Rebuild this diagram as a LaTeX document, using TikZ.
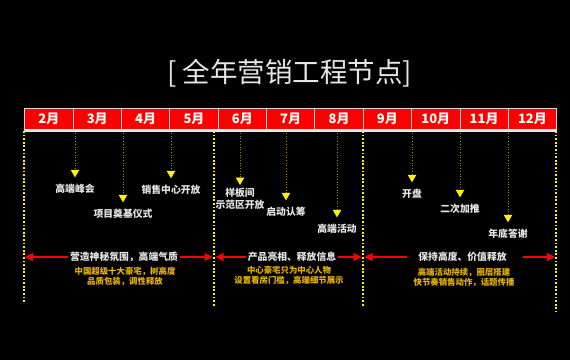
\documentclass[tikz,border=0pt]{standalone}
\usepackage{fontspec}
\newfontfamily\cjk{Noto Sans CJK SC}
\usetikzlibrary{arrows.meta}
\definecolor{gold}{HTML}{E8B400}
\definecolor{dimyel}{HTML}{9A8A00}
\definecolor{ltxt}{HTML}{E6E6E6}
\begin{document}
\begin{tikzpicture}[x=1pt,y=-1pt,
  month/.style={draw=white!85!black,fill=red,line width=0.8pt,minimum width=48.36pt,
    minimum height=21pt,inner sep=0pt,text=white,font=\cjk\bfseries\fontsize{13}{14}\selectfont},
  titletxt/.style={text=ltxt,inner sep=0pt,font=\cjk\fontsize{27.5}{30}\selectfont},
  lbl/.style={text=ltxt,inner sep=0pt,text height=7.5pt,text depth=1.5pt,
    font=\cjk\bfseries\fontsize{9.8}{12}\selectfont},
  lbltwo/.style={text=ltxt,inner sep=0pt,align=center,
    font=\cjk\bfseries\fontsize{9.8}{12}\selectfont},
  tick/.style={draw=dimyel,line width=0.7pt,dotted,
    -{Triangle[width=8.5pt,length=7.5pt,color=yellow,fill=yellow]},shorten >=7pt},
  secline/.style={draw=yellow,line width=1.8pt,dash pattern=on 1.8pt off 1.8pt},
  redarr/.style={draw=red,line width=1.1pt,-{Triangle[width=8pt,length=8pt]}},
  hdr/.style={text=ltxt,inner sep=2pt,font=\cjk\bfseries\fontsize{9.8}{12}\selectfont},
  sub/.style={text=gold,inner sep=0pt,align=center,
    font=\cjk\bfseries\fontsize{8.4}{10}\selectfont}]
\fill[black] (0,0) rectangle (570,360);
% title
\node[titletxt] (title) at (289.5,73) {[ 全年营销工程节点]};
% month bar
\foreach \i/\t in {1/2月,2/3月,3/4月,4/5月,5/6月,6/7月,7/8月,8/9月,9/10月,10/11月,11/12月}{
  \node[month] (m\i) at ({24.7+48.36*(\i-0.5)},118.5) {\t};
}
\fill[white!92!black] (24.3,129) rectangle (557.1,132);
% section dotted lines
\coordinate (sa1) at (24,131); \coordinate (sb1) at (24,302);
\coordinate (sa2) at (214,131); \coordinate (sb2) at (214,307);
\coordinate (sa3) at (363,131); \coordinate (sb3) at (363,307);
\coordinate (sa4) at (556,131); \coordinate (sb4) at (556,312);
\foreach \k in {1,2,3,4}{ \draw[secline] (sa\k) -- (sb\k); }
% event labels and arrows
\foreach \n/\x/\y/\t in {1/75/189/高端峰会, 2/123/214/项目奠基仪式, 3/171/190/销售中心开放,
    5/286/212/启动认筹, 6/337/229/高端活动, 7/412/194/开盘, 8/460/209/二次加推, 9/508/234/年底答谢}{
  \coordinate (t\n) at (\x,133);
  \node[lbl] (l\n) at (\x,\y) {\t};
  \draw[tick] (t\n) -- (l\n.north);
}
\coordinate (t4) at (240,133);
\node[lbltwo,anchor=north] (l4) at (240,188) {样板间\\示范区开放};
\draw[tick,shorten >=3pt] (t4) -- (l4.north);
% headers with red arrows
\node[hdr] (h1) at (124,257) {营造神秘氛围，高端气质};
\node[hdr] (h2) at (292,257) {产品亮相、释放信息};
\node[hdr] (h3) at (462.5,257) {保持高度、价值释放};
\coordinate (p1l) at (25,257); \coordinate (p1r) at (212.5,257);
\coordinate (p2l) at (215.5,257); \coordinate (p2r) at (361.5,257);
\coordinate (p3l) at (364.5,257); \coordinate (p3r) at (555,257);
\draw[redarr] (h1.west) -- (p1l);
\draw[redarr] (h1.east) -- (p1r);
\draw[redarr] (h2.west) -- (p2l);
\draw[redarr] (h2.east) -- (p2r);
\draw[redarr,shorten <=9pt] (h3.west) -- (p3l);
\draw[redarr,shorten <=14pt] (h3.east) -- (p3r);
% sub texts
\node[sub] (d1) at (125,276.5) {中国超级十大豪宅，树高度\\品质包装，调性释放};
\node[sub] (d2) at (289,275.5) {中心豪宅只为中心人物\\设置看房门槛，高端细节展示};
\node[sub] (d3) at (464,277.5) {高端活动持续，圈层搭建\\快节奏销售动作，话题传播};
\end{tikzpicture}
\end{document}
